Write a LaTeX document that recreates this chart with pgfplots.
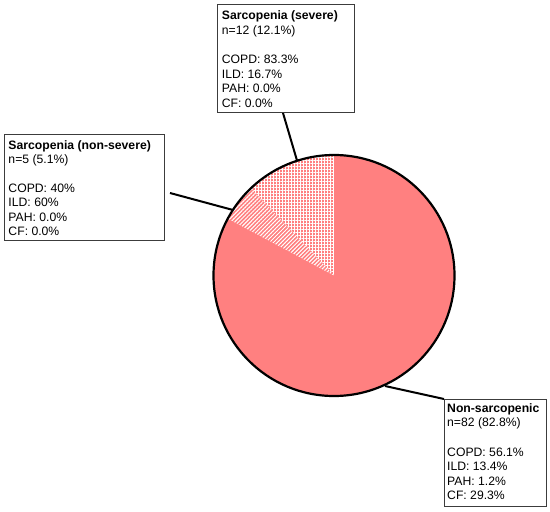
\documentclass[border=0pt]{standalone}
\usepackage{pgfplots}
\pgfplotsset{compat=1.18}
\usetikzlibrary{patterns.meta}
\usepackage{fontspec}
\setmainfont{Liberation Sans}
\definecolor{piefill}{HTML}{FF8080}
\definecolor{boxline}{HTML}{3C3C3C}

% data: group sizes
\def\nNonSarc{82}
\def\nSevere{12}
\def\nNonSevere{5}
\pgfmathsetmacro\ntot{\nNonSarc+\nSevere+\nNonSevere}
\pgfmathsetmacro\aA{90}
\pgfmathsetmacro\aB{\aA+\nSevere/\ntot*360}
\pgfmathsetmacro\aC{\aB+\nNonSevere/\ntot*360}
\pgfmathsetmacro\aD{\aC+\nNonSarc/\ntot*360}
\def\cx{334}\def\cy{275.5}\def\rad{120.5bp}

\newcommand\tline[3]{\node[anchor=base west, inner sep=0pt, font=\fontsize{12.2bp}{14.5bp}\selectfont] at (axis cs:#1,#2) {#3};}

\begin{document}
\begin{tikzpicture}
\begin{axis}[x=1bp, y=1bp, xmin=0, xmax=550, ymin=0, ymax=512,
  y dir=reverse, hide axis, clip=false, scale only axis]
\path[draw=none] (axis cs:0,0) rectangle (axis cs:550,512);

% slices
\fill[piefill] (axis cs:\cx,\cy) -- ++(\aC:\rad) arc[start angle=\aC, end angle=\aD, radius=\rad] -- cycle;
\path[preaction={fill=piefill}, pattern={Hatch[angle=0, distance=3bp, line width=1bp]}, pattern color=white]
  (axis cs:\cx,\cy) -- ++(\aA:\rad) arc[start angle=\aA, end angle=\aB, radius=\rad] -- cycle;
\path[preaction={fill=piefill}, pattern={Lines[angle=45, distance=2.8bp, line width=1bp]}, pattern color=white]
  (axis cs:\cx,\cy) -- ++(\aB:\rad) arc[start angle=\aB, end angle=\aC, radius=\rad] -- cycle;
\draw[black, line width=2.2bp] (axis cs:\cx,\cy) circle[radius=\rad];

% leader lines
\addplot[black, line width=2bp] coordinates {(283,113) (297,160.5)};
\addplot[black, line width=2bp] coordinates {(170,193) (233,210)};
\addplot[black, line width=2bp] coordinates {(385,386) (444,399)};

% boxes
\draw[boxline, line width=1bp, fill=white] (axis cs:217,5) rectangle (axis cs:354,113);
\draw[boxline, line width=1bp, fill=white] (axis cs:4,135) rectangle (axis cs:164,240.5);
\draw[boxline, line width=1bp, fill=white] (axis cs:444,399) rectangle (axis cs:546,506.5);

\tline{221.7}{20}{\textbf{Sarcopenia (severe)}}
\tline{221.7}{34.5}{n=12 (12.1\%)}
\tline{221.7}{64}{COPD: 83.3\%}
\tline{221.7}{78.5}{ILD: 16.7\%}
\tline{221.7}{93}{PAH: 0.0\%}
\tline{221.7}{107.5}{CF: 0.0\%}

\tline{8.3}{149.3}{\textbf{Sarcopenia (non-severe)}}
\tline{8.3}{163.6}{n=5 (5.1\%)}
\tline{8.3}{192.5}{COPD: 40\%}
\tline{8.3}{206.8}{ILD: 60\%}
\tline{8.3}{221.1}{PAH: 0.0\%}
\tline{8.3}{235.4}{CF: 0.0\%}

\tline{447}{412}{\textbf{Non-sarcopenic}}
\tline{447}{426.5}{n=82 (82.8\%)}
\tline{447}{456}{COPD: 56.1\%}
\tline{447}{470.5}{ILD: 13.4\%}
\tline{447}{485}{PAH: 1.2\%}
\tline{447}{499.5}{CF: 29.3\%}
\end{axis}
\end{tikzpicture}
\end{document}
